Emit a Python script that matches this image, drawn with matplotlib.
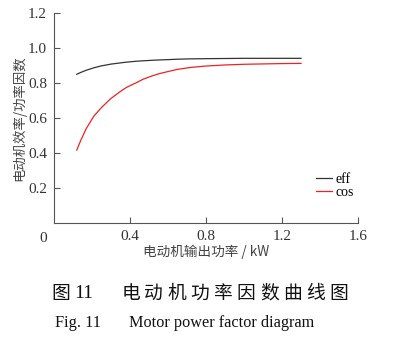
import matplotlib
matplotlib.use("Agg")
import matplotlib.pyplot as plt

# Output power (kW) and the two motor characteristics
power_kw = [0.12, 0.14, 0.17, 0.21, 0.25, 0.30, 0.35, 0.38, 0.43, 0.47, 0.52,
            0.56, 0.61, 0.65, 0.72, 0.80, 0.90, 1.00, 1.10, 1.20, 1.30]
eff = [0.850, 0.860, 0.873, 0.887, 0.898, 0.908, 0.915, 0.919, 0.924, 0.927, 0.930,
       0.932, 0.934, 0.936, 0.938, 0.939, 0.940, 0.941, 0.941, 0.941, 0.941]
cos_phi = [0.417, 0.470, 0.540, 0.611, 0.660, 0.712, 0.752, 0.774, 0.800, 0.822, 0.842,
           0.855, 0.868, 0.878, 0.889, 0.897, 0.903, 0.907, 0.909, 0.911, 0.912]

x_ticks = [0.4, 0.8, 1.2, 1.6]
y_ticks = [0.2, 0.4, 0.6, 0.8, 1.0, 1.2]

caption_cn = "电动机功率因数曲线图"
caption_en = "Motor power factor diagram"

serif = ["Liberation Serif", "DejaVu Serif"]
cjk = ["Noto Sans CJK SC", "Liberation Serif"]

W, H = 397, 338
fig = plt.figure(figsize=(W / 100, H / 100), dpi=100)
fig.patch.set_facecolor("white")
ax = fig.add_axes([54 / W, 1 - 223 / H, 304 / W, 210 / H])

ax.plot(power_kw, eff, color="#333333", lw=0.9, label="eff")
ax.plot(power_kw, cos_phi, color="#ee2222", lw=0.9, label="cos")

ax.set_xlim(0, 1.6)
ax.set_ylim(0, 1.2)
ax.set_xticks(x_ticks)
ax.set_yticks(y_ticks)
ax.set_xticklabels([f"{v:.1f}" for v in x_ticks], family=serif, fontsize=11, color="#333333")
ax.set_yticklabels([f"{v:.1f}" for v in y_ticks], family=serif, fontsize=11, color="#333333")
ax.tick_params(direction="in", length=4, width=0.8, color="#555555", pad=5)
for side in ("top", "right"):
    ax.spines[side].set_visible(False)
for side in ("left", "bottom"):
    ax.spines[side].set_color("#555555")
    ax.spines[side].set_linewidth(0.8)

# shared origin label
ax.text(-0.035, -0.045, "0", transform=ax.transAxes, ha="center", va="top",
        family=serif, fontsize=11, color="#333333")

ax.set_xlabel("电动机输出功率 / kW", family=cjk, fontsize=9.8, color="#444444", labelpad=1)
ax.set_ylabel("电动机效率/功率因数", family=cjk, fontsize=9.6, color="#444444", labelpad=1)

leg = ax.legend(loc="upper left", bbox_to_anchor=(0.84, 0.27), frameon=False,
                prop={"family": serif, "size": 10}, handlelength=1.1,
                handletextpad=0.3, labelspacing=0.0, borderpad=0)

# Figure caption (Chinese line set with wide letter spacing)
cap_y = 1 - 293 / H
fig.text(61 / W, cap_y, "图", family=cjk, fontsize=13.5, ha="center", va="center",
         color="#111111")
fig.text(84 / W, cap_y, "11", family=serif, fontsize=14, ha="center", va="center",
         color="#111111")
for i, ch in enumerate(caption_cn):
    fig.text((130.7 + 23.1 * i) / W, cap_y, ch, family=cjk, fontsize=13.5,
             ha="center", va="center", color="#111111")

en_y = 1 - 323 / H
fig.text(55 / W, en_y, "Fig. 11", family=serif, fontsize=11.8, ha="left", va="center",
         color="#111111")
fig.text(129 / W, en_y, caption_en, family=serif, fontsize=11.7, ha="left", va="center",
         color="#111111")

fig.savefig("out.png", dpi=100, facecolor="white")
